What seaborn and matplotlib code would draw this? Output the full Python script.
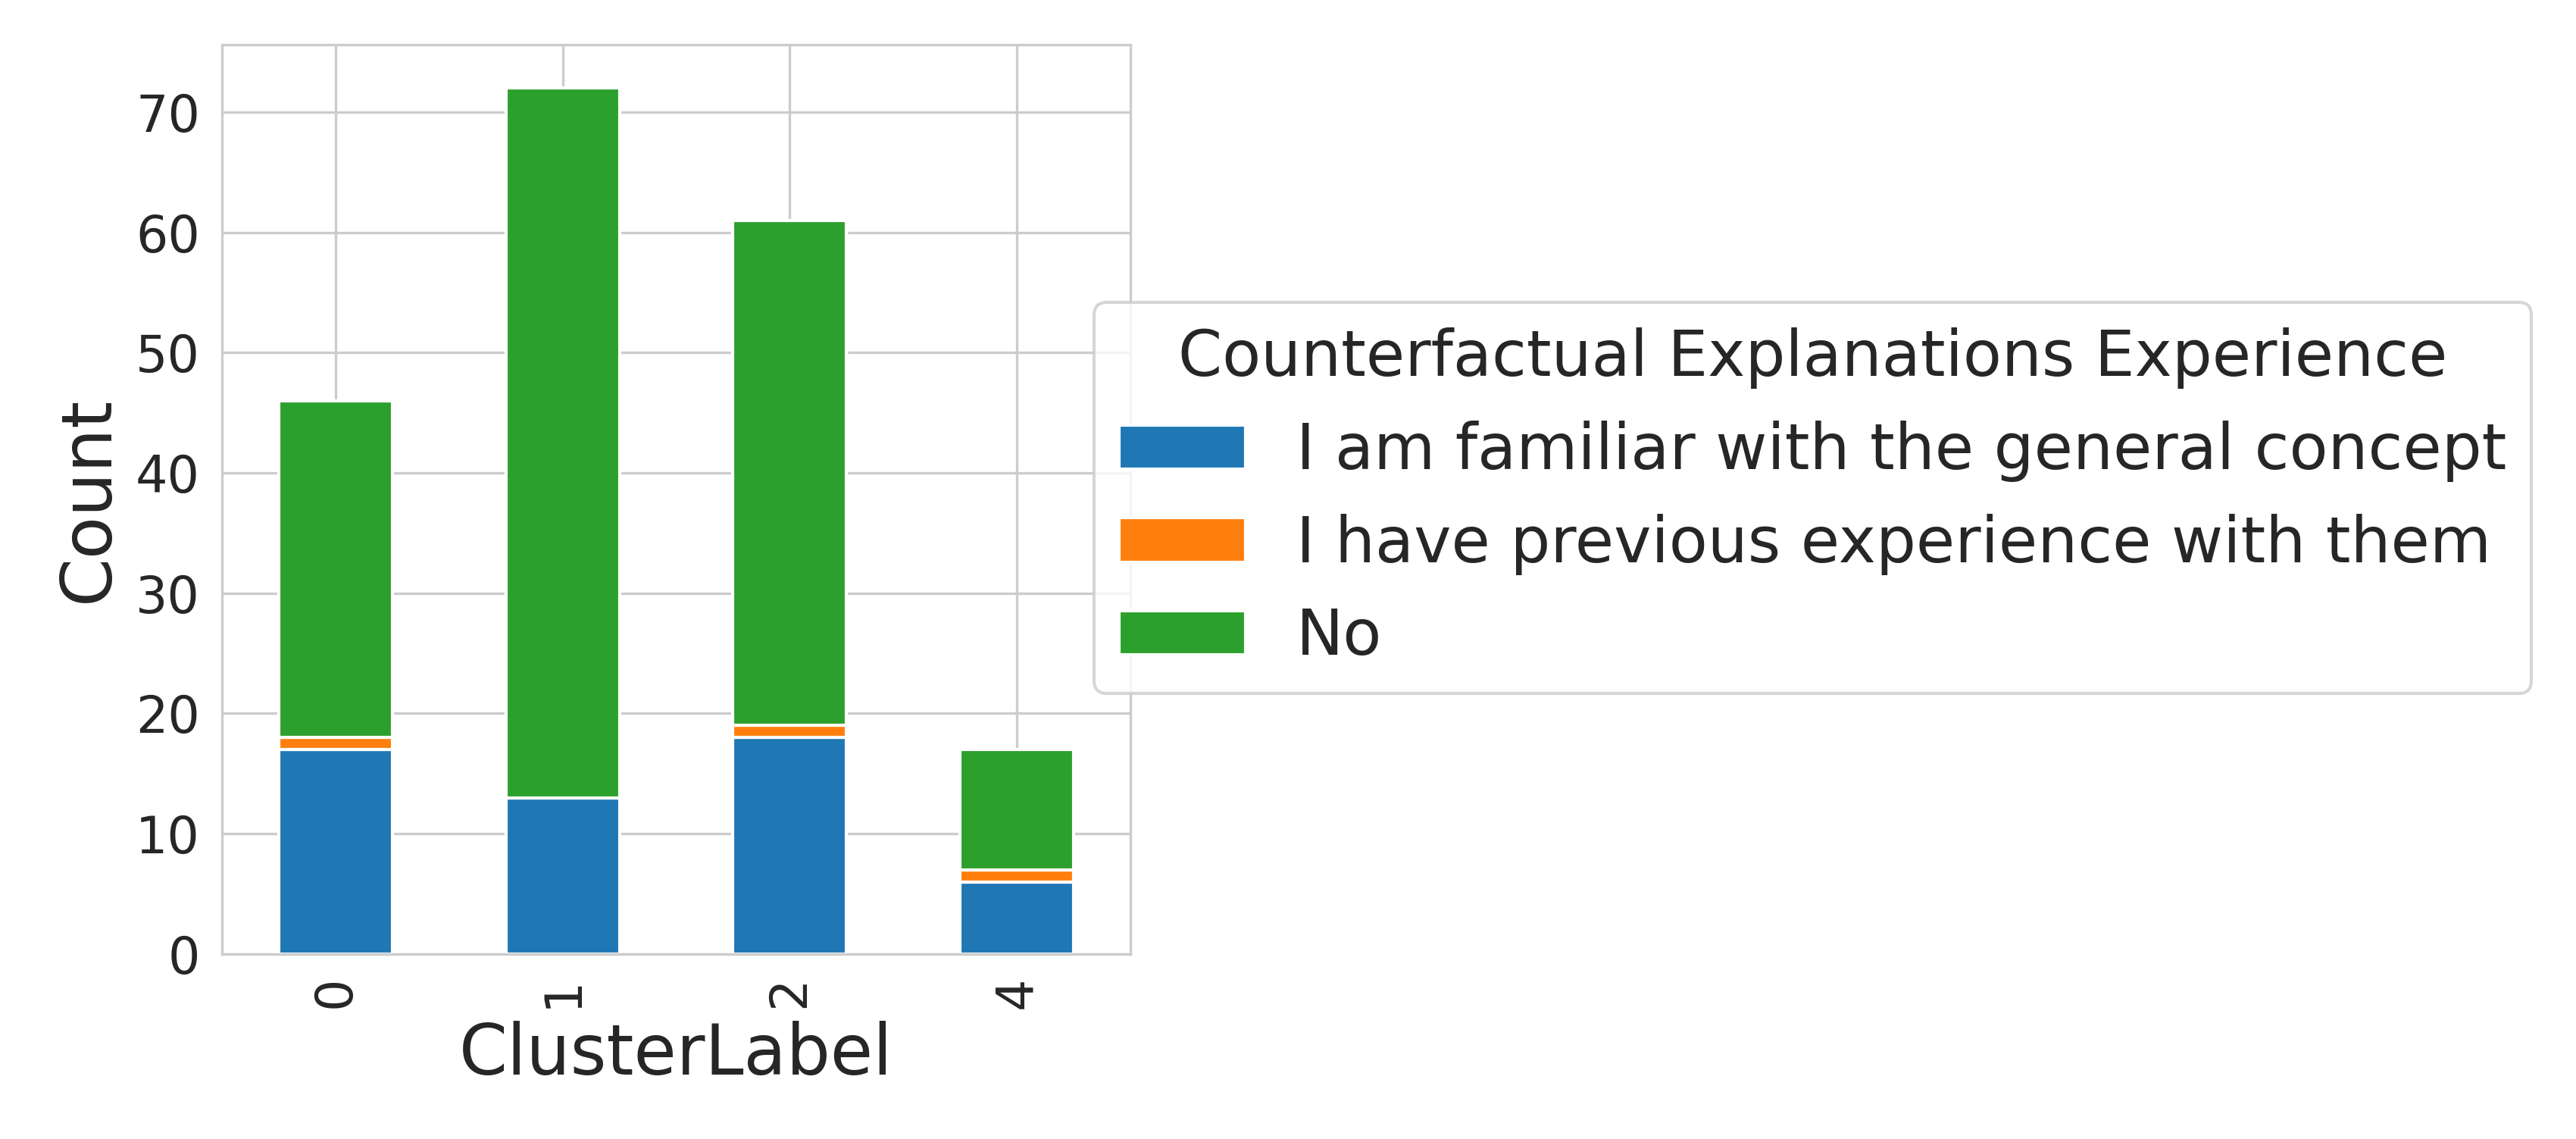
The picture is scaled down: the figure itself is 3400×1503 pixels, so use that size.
import pandas as pd
import matplotlib
matplotlib.use('Agg')
import matplotlib.pyplot as plt
import seaborn as sns

# --- data ---
clusters = ['0', '1', '2', '4']
familiar = [17, 13, 18, 6]
previous = [1, 0, 1, 1]
no_exp = [28, 59, 42, 10]

df = pd.DataFrame({
    'I am familiar with the general concept': familiar,
    'I have previous experience with them': previous,
    'No': no_exp,
}, index=pd.Index(clusters, name='ClusterLabel'))

sns.set_style('whitegrid')
plt.rcParams['font.family'] = ['DejaVu Sans']

fig = plt.figure(figsize=(3400 / 300, 1503 / 300), dpi=300)
ax = fig.add_axes([0.0862, 0.1624, 0.4388 - 0.0862, 0.9607 - 0.1624])

df.plot(kind='bar', stacked=True, ax=ax, color=['#1f77b4', '#ff7f0e', '#2ca02c'],
        edgecolor='white', linewidth=1.0)

ax.set_xlabel('ClusterLabel', fontsize=22)
ax.set_ylabel('Count', fontsize=22)
ax.tick_params(axis='both', labelsize=16)
ax.tick_params(axis='x', labelrotation=90)
ax.set_yticks(range(0, 80, 10))

ax.legend(title='Counterfactual Explanations Experience', fontsize=20, title_fontsize=20,
          loc='center left', bbox_to_anchor=(0.4247, 0.5629),
          bbox_transform=fig.transFigure, borderaxespad=0)

fig.savefig('out.png', dpi=300)
